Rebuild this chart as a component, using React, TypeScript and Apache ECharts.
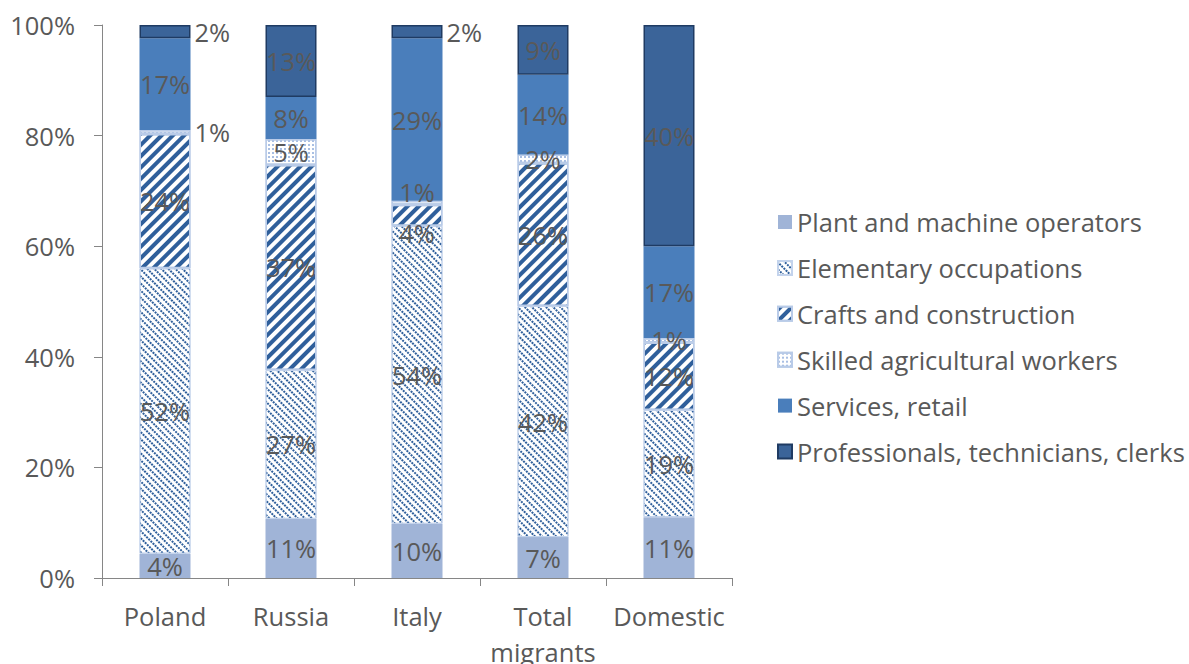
import React, { useEffect, useRef } from "react";
import * as echarts from "echarts";

const categories = ["Poland", "Russia", "Italy", "Total\nmigrants", "Domestic"];
const seriesNames = [
  "Plant and machine operators",
  "Elementary occupations",
  "Crafts and construction",
  "Skilled agricultural workers",
  "Services, retail",
  "Professionals, technicians, clerks",
];
const plant = [4.4, 10.7, 9.8, 7.4, 11.0];
const elementary = [51.6, 26.9, 53.9, 41.8, 19.4];
const crafts = [24.3, 37.1, 3.8, 25.8, 12.2];
const skilled = [0.7, 4.7, 0.7, 1.6, 0.8];
const services = [16.6, 7.6, 29.4, 14.4, 16.6];
const professionals = [2.4, 13.0, 2.4, 9.0, 40.0];
const yTicks = [0, 20, 40, 60, 80, 100];
// indices of bars whose label sits to the right of the bar
const outsideLabels: number[][] = [[], [], [], [0], [], [0, 2]];

const FONT = "Open Sans";
const FS = 25.5;
const TEXT = "#595959";

export default function App() {
  const ref = useRef<HTMLDivElement>(null);
  useEffect(() => {
    document.body.style.margin = "0";
    const chart = echarts.init(ref.current!, undefined, { renderer: "svg" });
    const values = [plant, elementary, crafts, skilled, services, professionals];
    const styles: any[] = [
      { color: "#a0b4d7" },
      {
        color: "#ffffff",
        borderColor: "#c3d3ec",
        borderWidth: 1,
        decal: {
          symbol: "rect",
          symbolSize: 1,
          color: "#2f5f9b",
          backgroundColor: "#ffffff",
          dashArrayX: [[2, 1]],
          dashArrayY: [1.2, 2.6],
          rotation: Math.PI / 4,
        },
      },
      {
        color: "#ffffff",
        borderColor: "#b9cbe8",
        borderWidth: 1.5,
        decal: {
          symbol: "rect",
          symbolSize: 1,
          color: "#2f5f9b",
          backgroundColor: "#ffffff",
          dashArrayX: [1, 0],
          dashArrayY: [3.5, 4],
          rotation: -Math.PI / 4,
        },
      },
      {
        color: "#ffffff",
        borderColor: "#b9cbe8",
        borderWidth: 1.5,
        decal: {
          symbol: "rect",
          symbolSize: 1,
          color: "#a9bfe3",
          backgroundColor: "#ffffff",
          dashArrayX: [[1.5, 1.5]],
          dashArrayY: [1.5, 1.5],
          rotation: 0,
        },
      },
      { color: "#4a7ebb" },
      { color: "#3b6499", borderColor: "#1f3b63", borderWidth: 1.5 },
    ];
    const labelOffset = (si: number, ci: number): number[] | undefined => {
      if (ci === 2 && si === 2) return [0, 18];
      if (ci === 2 && si === 3) return [0, -11];
      return undefined;
    };
    const series = seriesNames.map((name, si) => ({
      name,
      type: "bar",
      stack: "total",
      barWidth: 51,
      itemStyle: styles[si],
      label: {
        show: true,
        position: "inside",
        color: TEXT,
        fontFamily: FONT,
        fontSize: FS,
        textBorderWidth: 0,
        formatter: (p: any) => Math.round(p.value) + "%",
      },
      data: values[si].map((v, ci) => {
        if (outsideLabels[si].includes(ci))
          return { value: v, label: { position: "right", distance: 4 } };
        const off = labelOffset(si, ci);
        if (off) return { value: v, label: { offset: off } };
        return v;
      }),
    }));
    chart.setOption({
      animation: false,
      backgroundColor: "#ffffff",
      textStyle: { fontFamily: FONT, color: TEXT },
      grid: { left: 102, right: 457, top: 25, bottom: 86, outerBoundsMode: "none" },
      legend: {
        orient: "vertical",
        left: 777,
        top: 209,
        padding: 0,
        itemWidth: 14,
        itemHeight: 14,
        itemGap: 19.9,
        icon: "rect",
        textStyle: { fontFamily: FONT, fontSize: FS, lineHeight: 24, color: TEXT },
        data: seriesNames,
      },
      xAxis: {
        type: "category",
        data: categories,
        axisLine: { lineStyle: { color: "#868686", width: 1 } },
        axisTick: { show: true, interval: 0, length: 8, lineStyle: { color: "#868686" } },
        axisLabel: {
          interval: 0,
          fontFamily: FONT,
          fontSize: FS,
          color: TEXT,
          margin: 20,
          lineHeight: 36,
        },
      },
      yAxis: {
        type: "value",
        min: 0,
        max: 100,
        interval: 20,
        axisLine: { show: true, lineStyle: { color: "#868686", width: 1 } },
        axisTick: { show: true, length: 8, lineStyle: { color: "#868686" } },
        splitLine: { show: false },
        axisLabel: {
          fontFamily: FONT,
          fontSize: FS,
          color: TEXT,
          margin: 27,
          formatter: (v: number) => (yTicks.includes(v) ? v + "%" : ""),
        },
      },
      series,
    });
    return () => chart.dispose();
  }, []);
  return <div ref={ref} style={{ width: 1189, height: 664 }} />;
}
